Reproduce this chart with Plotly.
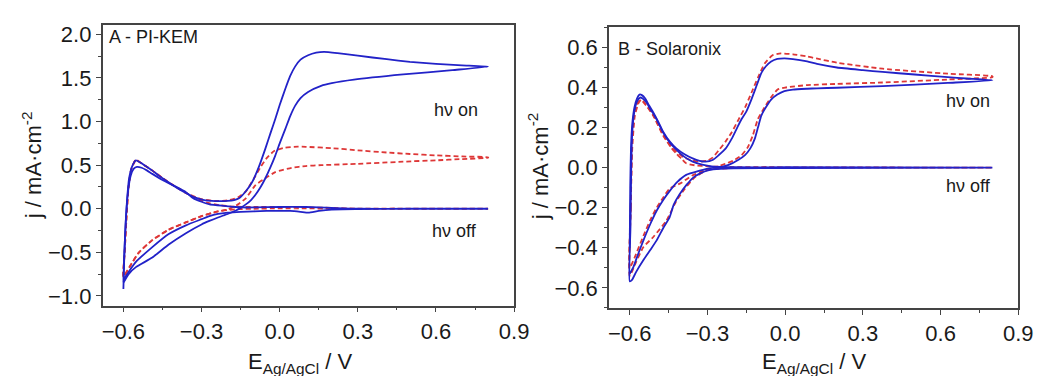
import plotly.graph_objects as go

# ---------------- Panel A (PI-KEM) ----------------
# blue solid, light on (forward then reverse scan)
A_blue_on_E = [-0.600, -0.597, -0.592, -0.586, -0.578, -0.566, -0.552, -0.535, -0.515, -0.490, -0.464, -0.430, -0.400,
               -0.360, -0.326, -0.290, -0.260, -0.230, -0.200, -0.175, -0.156, -0.130, -0.105, -0.080, -0.055, -0.035,
               -0.017, 0.000, 0.021, 0.040, 0.059, 0.080, 0.109, 0.140, 0.170, 0.222, 0.300, 0.411, 0.500, 0.600,
               0.700, 0.800,
               0.663, 0.474, 0.285, 0.200, 0.159, 0.109, 0.080, 0.059, 0.040, 0.021, 0.000, -0.017, -0.035, -0.055,
               -0.075, -0.093, -0.110, -0.130, -0.150, -0.168, -0.200, -0.237, -0.270, -0.300, -0.360, -0.426, -0.489,
               -0.552, -0.580, -0.600]
A_blue_on_j = [-0.92, -0.60, -0.20, 0.10, 0.35, 0.49, 0.555, 0.53, 0.49, 0.44, 0.38, 0.31, 0.25,
               0.18, 0.13, 0.10, 0.09, 0.088, 0.09, 0.10, 0.12, 0.20, 0.31, 0.48, 0.69, 0.87,
               1.03, 1.19, 1.37, 1.52, 1.63, 1.71, 1.76, 1.79, 1.80, 1.785, 1.755, 1.715, 1.685, 1.662,
               1.645, 1.63,
               1.59, 1.54, 1.48, 1.44, 1.41, 1.34, 1.27, 1.18, 1.06, 0.91, 0.75, 0.61, 0.48, 0.35,
               0.24, 0.16, 0.10, 0.05, 0.01, -0.02, -0.06, -0.10, -0.14, -0.18, -0.28, -0.41, -0.56,
               -0.67, -0.75, -0.85]

# blue solid, light off
A_blue_off_E = [-0.600, -0.597, -0.590, -0.582, -0.572, -0.560, -0.548, -0.530, -0.510, -0.489, -0.450, -0.400, -0.360,
                -0.332, -0.300, -0.269, -0.240, -0.206, -0.170, -0.143, -0.100, 0.000, 0.100, 0.200, 0.300, 0.500,
                0.800,
                0.800, 0.500, 0.300, 0.200, 0.150, 0.110, 0.080, 0.040, 0.000, -0.050, -0.100, -0.150, -0.200,
                -0.237, -0.270, -0.300, -0.360, -0.426, -0.489, -0.552, -0.596, -0.600]
A_blue_off_j = [-0.85, -0.55, -0.10, 0.20, 0.38, 0.46, 0.48, 0.47, 0.44, 0.40, 0.33, 0.255, 0.19,
                0.12, 0.08, 0.05, 0.04, 0.03, 0.02, 0.015, 0.015, 0.02, 0.02, 0.01, 0.0, 0.0,
                0.0,
                0.0, 0.0, -0.005, -0.01, -0.025, -0.045, -0.035, -0.025, -0.025, -0.025, -0.03, -0.035, -0.045,
                -0.06, -0.085, -0.12, -0.19, -0.29, -0.44, -0.61, -0.80, -0.85]

# red dashed, light on
A_red_on_E = [-0.600, -0.595, -0.588, -0.580, -0.570, -0.552, -0.535, -0.490, -0.430, -0.360, -0.300, -0.250, -0.200,
              -0.160, -0.130, -0.100, -0.075, -0.050, -0.020, 0.020, 0.070, 0.100, 0.200, 0.300, 0.410, 0.500,
              0.600, 0.700, 0.800,
              0.800, 0.700, 0.600, 0.474, 0.300, 0.159, 0.100, 0.046, -0.017, -0.050, -0.093, -0.130, -0.160,
              -0.200, -0.237, -0.300, -0.363, -0.426, -0.489, -0.540, -0.577, -0.600]
A_red_on_j = [-0.78, -0.50, -0.10, 0.25, 0.45, 0.565, 0.53, 0.44, 0.31, 0.18, 0.11, 0.09, 0.095,
              0.13, 0.20, 0.34, 0.47, 0.58, 0.665, 0.70, 0.712, 0.71, 0.695, 0.67, 0.645, 0.628,
              0.612, 0.60, 0.59,
              0.585, 0.57, 0.555, 0.54, 0.515, 0.50, 0.49, 0.47, 0.42, 0.36, 0.27, 0.12, 0.05,
              -0.01, -0.03, -0.085, -0.16, -0.24, -0.36, -0.50, -0.67, -0.78]

# red dashed, light off
A_red_off_E = [-0.600, -0.595, -0.588, -0.580, -0.570, -0.552, -0.535, -0.490, -0.430, -0.380, -0.330, -0.280, -0.230,
               -0.180, -0.100, 0.000, 0.100, 0.200, 0.300, 0.500, 0.800,
               0.800, 0.300, 0.200, 0.100, 0.000, -0.100, -0.160, -0.200, -0.237, -0.300, -0.363, -0.426, -0.489,
               -0.540, -0.577, -0.600]
A_red_off_j = [-0.78, -0.50, -0.10, 0.25, 0.45, 0.56, 0.53, 0.44, 0.31, 0.22, 0.13, 0.07, 0.04,
               0.025, 0.02, 0.02, 0.015, 0.01, 0.0, 0.0, 0.0,
               0.0, 0.0, 0.0, 0.005, 0.005, 0.0, -0.005, -0.015, -0.03, -0.085, -0.16, -0.24, -0.36,
               -0.50, -0.67, -0.78]

# ---------------- Panel B (Solaronix) ----------------
B_blue_on_E = [-0.600, -0.598, -0.595, -0.590, -0.582, -0.572, -0.562, -0.553, -0.540, -0.525, -0.509, -0.490, -0.471,
               -0.445, -0.420, -0.390, -0.357, -0.330, -0.307, -0.280, -0.256, -0.230, -0.206, -0.185, -0.168, -0.150,
               -0.130, -0.110, -0.092, -0.075, -0.054, -0.030, -0.003, 0.030, 0.085, 0.123, 0.200, 0.300, 0.376,
               0.500, 0.628, 0.700, 0.800,
               0.628, 0.376, 0.200, 0.123, 0.085, 0.030, -0.003, -0.030, -0.054, -0.075, -0.092, -0.105, -0.117,
               -0.135, -0.155, -0.180, -0.218, -0.260, -0.294, -0.330, -0.382, -0.415, -0.446, -0.470, -0.496,
               -0.520, -0.547, -0.570, -0.585, -0.600]
B_blue_on_j = [-0.40, -0.10, 0.10, 0.22, 0.30, 0.345, 0.365, 0.362, 0.345, 0.31, 0.276, 0.23, 0.18,
               0.13, 0.096, 0.068, 0.046, 0.034, 0.03, 0.038, 0.063, 0.095, 0.145, 0.20, 0.243, 0.28,
               0.341, 0.41, 0.472, 0.505, 0.53, 0.543, 0.546, 0.542, 0.53, 0.518, 0.50, 0.487, 0.478,
               0.465, 0.452, 0.445, 0.436,
               0.423, 0.407, 0.399, 0.396, 0.394, 0.39, 0.382, 0.365, 0.34, 0.30, 0.26, 0.20, 0.145,
               0.095, 0.063, 0.04, 0.014, 0.0, -0.003, -0.015, -0.036, -0.07, -0.117, -0.16, -0.215,
               -0.28, -0.363, -0.44, -0.494, -0.53]

B_blue_off_E = [-0.600, -0.597, -0.594, -0.590, -0.582, -0.572, -0.560, -0.550, -0.535, -0.520, -0.509, -0.490, -0.471,
                -0.445, -0.420, -0.390, -0.357, -0.320, -0.290, -0.250, -0.200, 0.000, 0.800,
                0.800, 0.000, -0.200, -0.250, -0.294, -0.330, -0.357, -0.380, -0.408, -0.430, -0.446, -0.470, -0.496,
                -0.520, -0.547, -0.575, -0.591, -0.600]
B_blue_off_j = [-0.567, -0.30, 0.0, 0.18, 0.28, 0.33, 0.35, 0.345, 0.325, 0.29, 0.27, 0.225, 0.175,
                0.125, 0.09, 0.055, 0.03, 0.015, 0.008, 0.004, 0.002, 0.002, 0.0,
                0.0, -0.002, -0.004, -0.006, -0.012, -0.03, -0.052, -0.085, -0.134, -0.185, -0.248, -0.30, -0.363,
                -0.41, -0.461, -0.52, -0.56, -0.567]

B_red_on_E = [-0.600, -0.596, -0.592, -0.585, -0.575, -0.562, -0.550, -0.530, -0.509, -0.490, -0.471, -0.445, -0.420,
              -0.390, -0.357, -0.330, -0.300, -0.280, -0.256, -0.230, -0.206, -0.180, -0.155, -0.130, -0.105, -0.079,
              -0.050, -0.016, 0.030, 0.085, 0.120, 0.200, 0.376, 0.628, 0.800,
              0.800, 0.628, 0.376, 0.200, 0.085, 0.000, -0.029, -0.055, -0.080, -0.105, -0.125, -0.145, -0.170,
              -0.200, -0.230, -0.260, -0.300, -0.350, -0.390, -0.420, -0.458, -0.509, -0.547, -0.575, -0.600]
B_red_on_j = [-0.54, -0.20, 0.10, 0.25, 0.31, 0.335, 0.33, 0.30, 0.26, 0.215, 0.165, 0.115, 0.08,
              0.05, 0.035, 0.03, 0.035, 0.05, 0.087, 0.13, 0.177, 0.24, 0.30, 0.374, 0.45, 0.52,
              0.56, 0.57, 0.566, 0.555, 0.545, 0.524, 0.494, 0.469, 0.456,
              0.452, 0.44, 0.425, 0.418, 0.412, 0.40, 0.39, 0.35, 0.30, 0.243, 0.16, 0.10, 0.06,
              0.035, 0.02, 0.005, -0.01, -0.05, -0.11, -0.166, -0.264, -0.346, -0.396, -0.47, -0.54]

B_red_off_E = [-0.600, -0.596, -0.590, -0.580, -0.565, -0.555, -0.540, -0.509, -0.471, -0.440, -0.420, -0.400, -0.382,
               -0.350, -0.294, -0.200, 0.800,
               0.800, -0.200, -0.300, -0.360, -0.400, -0.446, -0.471, -0.496, -0.520, -0.547, -0.575, -0.600]
B_red_off_j = [-0.50, -0.20, 0.10, 0.26, 0.325, 0.34, 0.32, 0.26, 0.16, 0.10, 0.07, 0.045, 0.022,
               0.012, 0.006, 0.003, 0.0,
               0.0, -0.002, -0.01, -0.04, -0.075, -0.105, -0.15, -0.20, -0.26, -0.34, -0.43, -0.50]

x_ticks = [-0.6, -0.3, 0.0, 0.3, 0.6, 0.9]
A_yticks = [-1.0, -0.5, 0.0, 0.5, 1.0, 1.5, 2.0]
B_yticks = [-0.6, -0.4, -0.2, 0.0, 0.2, 0.4, 0.6]

BLUE = "rgb(34,34,200)"
RED = "rgb(222,55,55)"
FONT = "Liberation Sans, Arial, sans-serif"

fig = go.Figure()


def add_curve(E, j, color, dash, xa, ya):
    fig.add_trace(go.Scatter(
        x=E, y=j, mode="lines", xaxis=xa, yaxis=ya, showlegend=False, hoverinfo="skip",
        line=dict(color=color, width=1.8, dash=dash, shape="spline", smoothing=0.5)))


# red dashed first, blue solid on top
add_curve(A_red_off_E, A_red_off_j, RED, "5px,3px", "x", "y")
add_curve(A_red_on_E, A_red_on_j, RED, "5px,3px", "x", "y")
add_curve(A_blue_off_E, A_blue_off_j, BLUE, "solid", "x", "y")
add_curve(A_blue_on_E, A_blue_on_j, BLUE, "solid", "x", "y")
add_curve(B_red_off_E, B_red_off_j, RED, "5px,3px", "x2", "y2")
add_curve(B_red_on_E, B_red_on_j, RED, "5px,3px", "x2", "y2")
add_curve(B_blue_off_E, B_blue_off_j, BLUE, "solid", "x2", "y2")
add_curve(B_blue_on_E, B_blue_on_j, BLUE, "solid", "x2", "y2")

axis_common = dict(
    showline=True, mirror=True, linecolor="#444", linewidth=1.5,
    ticks="outside", ticklen=5, tickwidth=1.3, tickcolor="#444",
    showgrid=False, zeroline=False, tickformat=".1f",
    tickfont=dict(family=FONT, size=22, color="#1a1a1a"),
)
minor_common = dict(ticks="outside", ticklen=3, tickwidth=1.2, tickcolor="#444", tick0=0)

W, H = 1045, 376
fig.update_layout(
    width=W, height=H, margin=dict(l=0, r=0, t=0, b=0),
    paper_bgcolor="white", plot_bgcolor="white",
    xaxis=dict(domain=[95 / W, 513 / W], range=[-0.68, 0.9], tickvals=x_ticks, anchor="y",
               minor=dict(dtick=0.15, **minor_common), **axis_common),
    yaxis=dict(domain=[1 - 299.3 / H, 1 - 14 / H], range=[-1.11, 2.11], tickvals=A_yticks, anchor="x",
               minor=dict(dtick=0.25, **minor_common), **axis_common),
    xaxis2=dict(domain=[609.3 / W, 1025 / W], range=[-0.68, 0.9], tickvals=x_ticks, anchor="y2",
                minor=dict(dtick=0.15, **minor_common), **axis_common),
    yaxis2=dict(domain=[1 - 301.7 / H, 1 - 16.7 / H], range=[-0.7, 0.7], tickvals=B_yticks, anchor="x2",
                minor=dict(dtick=0.1, **minor_common), **axis_common),
)

txt = dict(family=FONT, size=18, color="#1a1a1a")
ttl = dict(family=FONT, size=22, color="#1a1a1a")
ann = [
    dict(text="A - PI-KEM", x=100 / W, y=1 - 26.5 / H, xanchor="left", yanchor="middle", font=txt),
    dict(text="B - Solaronix", x=616 / W, y=1 - 38.5 / H, xanchor="left", yanchor="middle", font=txt),
    dict(text="hν on", x=430 / W, y=1 - 101 / H, xanchor="left", yanchor="middle", font=txt),
    dict(text="hν off", x=428 / W, y=1 - 224 / H, xanchor="left", yanchor="middle", font=txt),
    dict(text="hν on", x=950 / W, y=1 - 91 / H, xanchor="left", yanchor="middle", font=txt),
    dict(text="hν off", x=950 / W, y=1 - 177.5 / H, xanchor="left", yanchor="middle", font=txt),
    dict(text="j / mA·cm<sup>-2</sup>", x=24 / W, y=1 - 157 / H, textangle=-90,
         xanchor="center", yanchor="middle", font=ttl),
    dict(text="j / mA·cm<sup>-2</sup>", x=538 / W, y=1 - 158 / H, textangle=-90,
         xanchor="center", yanchor="middle", font=ttl),
    dict(text="E<sub>Ag/AgCl</sub> / V", x=296 / W, y=1 - 341 / H, xanchor="center", yanchor="top", font=ttl),
    dict(text="E<sub>Ag/AgCl</sub> / V", x=818 / W, y=1 - 341 / H, xanchor="center", yanchor="top", font=ttl),
]
for a in ann:
    a.update(xref="paper", yref="paper", showarrow=False)
fig.update_layout(annotations=ann)

fig.write_html("out.html")
